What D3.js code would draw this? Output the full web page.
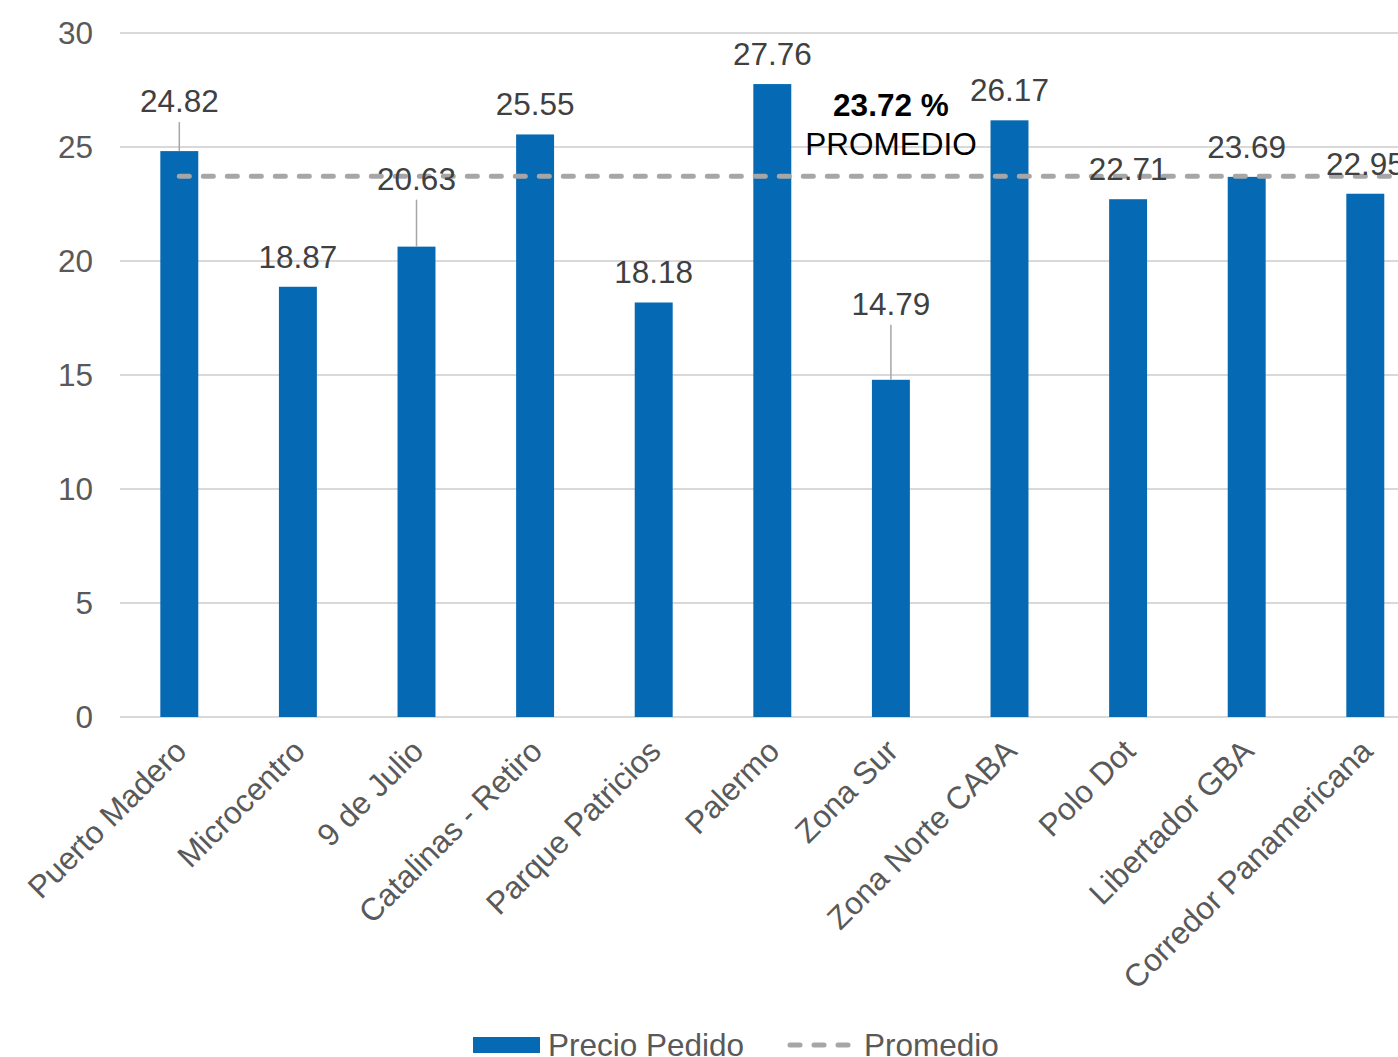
<!DOCTYPE html>
<html>
<head>
<meta charset="utf-8">
<script src="https://cdn.jsdelivr.net/npm/d3@7"></script>
<style>
  body { margin: 0; background: #fff; overflow: hidden; }
  svg text { font-family: "Liberation Sans", Arial, sans-serif; }
</style>
</head>
<body>
<svg id="chart" width="1398" height="1057"></svg>
<script>
// data
const categories = ["Puerto Madero", "Microcentro", "9 de Julio", "Catalinas - Retiro", "Parque Patricios",
  "Palermo", "Zona Sur", "Zona Norte CABA", "Polo Dot", "Libertador GBA", "Corredor Panamericana"];
const precioPedido = [24.82, 18.87, 20.63, 25.55, 18.18, 27.76, 14.79, 26.17, 22.71, 23.69, 22.95];
const promedio = 23.72;
const yTicks = [0, 5, 10, 15, 20, 25, 30];
const legendLabels = ["Precio Pedido", "Promedio"];

// labels that sit higher up with a leader line (extra px lift)
const leaderLift = { "Puerto Madero": 20, "9 de Julio": 38, "Zona Sur": 46 };

const svg = d3.select("#chart");
const blue = "#0569b4";
const grey = "#a6a6a6";
const textCol = "#404040";
const fs = 31.5;

const x = d3.scaleBand()
  .domain(categories)
  .range([120, 1424.6])
  .paddingInner(0.68)
  .paddingOuter(0.34);

const y = d3.scaleLinear().domain([0, 30]).range([717, 33]);

const val = d => precioPedido[categories.indexOf(d)];
const cx = d => x(d) + x.bandwidth() / 2;
const labelY = d => y(val(d)) - 19 - (leaderLift[d] || 0);

// grid
svg.append("g")
  .selectAll("line")
  .data(yTicks)
  .join("line")
  .attr("x1", 120).attr("x2", 1398)
  .attr("y1", d => y(d)).attr("y2", d => y(d))
  .attr("stroke", "#d9d9d9").attr("stroke-width", 2);

// y axis labels
svg.append("g")
  .selectAll("text")
  .data(yTicks)
  .join("text")
  .attr("x", 93).attr("y", d => y(d))
  .attr("dy", "0.35em")
  .attr("text-anchor", "end")
  .attr("font-size", fs)
  .attr("fill", "#595959")
  .text(d => d);

// bars
svg.append("g")
  .selectAll("rect")
  .data(categories)
  .join("rect")
  .attr("x", d => x(d))
  .attr("width", x.bandwidth())
  .attr("y", d => y(val(d)))
  .attr("height", d => y(0) - y(val(d)))
  .attr("fill", blue);

// average line
svg.append("line")
  .attr("x1", cx(categories[0]))
  .attr("x2", 1398)
  .attr("y1", y(promedio)).attr("y2", y(promedio))
  .attr("stroke", grey)
  .attr("stroke-width", 5)
  .attr("stroke-linecap", "round")
  .attr("stroke-dasharray", "10,14");

// leader lines
svg.append("g")
  .selectAll("line")
  .data(categories.filter(d => leaderLift[d]))
  .join("line")
  .attr("x1", cx).attr("x2", cx)
  .attr("y1", d => y(val(d)))
  .attr("y2", d => labelY(d) + 10)
  .attr("stroke", grey).attr("stroke-width", 1.5);

// value labels
svg.append("g")
  .selectAll("text")
  .data(categories)
  .join("text")
  .attr("x", cx)
  .attr("y", labelY)
  .attr("text-anchor", "middle")
  .attr("font-size", fs)
  .attr("fill", textCol)
  .text(d => val(d).toFixed(2));

// average annotation
const annX = cx("Zona Sur");
svg.append("text")
  .attr("x", annX).attr("y", 116)
  .attr("text-anchor", "middle")
  .attr("font-size", fs).attr("font-weight", "bold")
  .attr("fill", "#000")
  .text(promedio.toFixed(2) + " %");
svg.append("text")
  .attr("x", annX).attr("y", 155)
  .attr("text-anchor", "middle")
  .attr("font-size", fs)
  .attr("fill", "#000")
  .text("PROMEDIO");

// category labels
svg.append("g")
  .selectAll("text")
  .data(categories)
  .join("text")
  .attr("transform", d => `translate(${cx(d) + 9},${y(0) + 36}) rotate(-45)`)
  .attr("text-anchor", "end")
  .attr("font-size", fs)
  .attr("fill", "#595959")
  .text(d => d);

// legend
const lg = svg.append("g");
lg.append("rect")
  .attr("x", 473).attr("y", 1037).attr("width", 67).attr("height", 16)
  .attr("fill", blue);
lg.append("text")
  .attr("x", 548).attr("y", 1056)
  .attr("font-size", fs).attr("fill", "#595959")
  .text(legendLabels[0]);
lg.append("line")
  .attr("x1", 790).attr("x2", 850)
  .attr("y1", 1045).attr("y2", 1045)
  .attr("stroke", grey).attr("stroke-width", 5)
  .attr("stroke-linecap", "round")
  .attr("stroke-dasharray", "10,14");
lg.append("text")
  .attr("x", 864).attr("y", 1056)
  .attr("font-size", fs).attr("fill", "#595959")
  .text(legendLabels[1]);
</script>
</body>
</html>
